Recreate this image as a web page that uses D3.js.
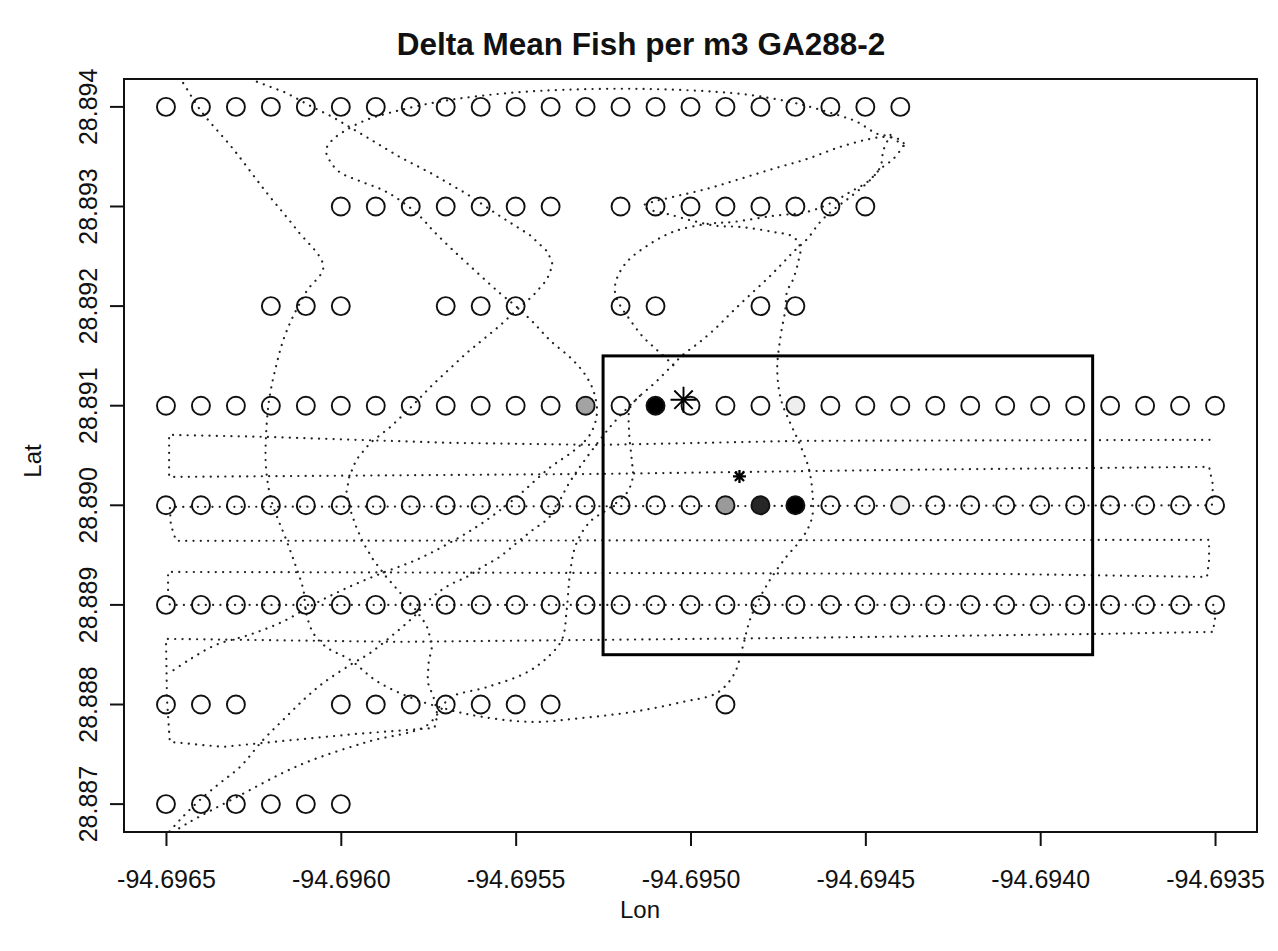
<!DOCTYPE html>
<html>
<head>
<meta charset="utf-8">
<title>Delta Mean Fish per m3 GA288-2</title>
<script src="https://cdn.jsdelivr.net/npm/d3@7"></script>
<style>
  body { margin: 0; background: #fff; }
  svg text { font-family: "Liberation Sans", Arial, Helvetica, sans-serif; fill: #111; }
  .track { fill: none; stroke: #222; stroke-width: 2.2; stroke-dasharray: 0.1 7.2; stroke-linecap: round; }
  .station { stroke: #111; stroke-width: 1.9; }
</style>
</head>
<body>
<div id="chart"></div>
<script>
// ---- data ----------------------------------------------------------------
var titleText = "Delta Mean Fish per m3 GA288-2";

var xTicks = [-94.6965, -94.6960, -94.6955, -94.6950, -94.6945, -94.6940, -94.6935];
var xTickLabels = ["-94.6965", "-94.6960", "-94.6955", "-94.6950", "-94.6945", "-94.6940", "-94.6935"];
var yTicks = [28.887, 28.888, 28.889, 28.890, 28.891, 28.892, 28.893, 28.894];
var yTickLabels = ["28.887", "28.888", "28.889", "28.890", "28.891", "28.892", "28.893", "28.894"];

// sampling stations, one list of longitudes per latitude row
var fullRow = [-94.6965, -94.6964, -94.6963, -94.6962, -94.6961, -94.6960, -94.6959, -94.6958,
               -94.6957, -94.6956, -94.6955, -94.6954, -94.6953, -94.6952, -94.6951, -94.6950,
               -94.6949, -94.6948, -94.6947, -94.6946, -94.6945, -94.6944, -94.6943, -94.6942,
               -94.6941, -94.6940, -94.6939, -94.6938, -94.6937, -94.6936, -94.6935];
var rowLat = [28.894, 28.893, 28.892, 28.891, 28.890, 28.889, 28.888, 28.887];
var rowLon = [
  [-94.6965, -94.6964, -94.6963, -94.6962, -94.6961, -94.6960, -94.6959, -94.6958, -94.6957, -94.6956, -94.6955,
   -94.6954, -94.6953, -94.6952, -94.6951, -94.6950, -94.6949, -94.6948, -94.6947, -94.6946, -94.6945, -94.6944],
  [-94.6960, -94.6959, -94.6958, -94.6957, -94.6956, -94.6955, -94.6954,
   -94.6952, -94.6951, -94.6950, -94.6949, -94.6948, -94.6947, -94.6946, -94.6945],
  [-94.6962, -94.6961, -94.6960, -94.6957, -94.6956, -94.6955, -94.6952, -94.6951, -94.6948, -94.6947],
  fullRow,
  fullRow,
  fullRow,
  [-94.6965, -94.6964, -94.6963, -94.6960, -94.6959, -94.6958, -94.6957, -94.6956, -94.6955, -94.6954, -94.6949],
  [-94.6965, -94.6964, -94.6963, -94.6962, -94.6961, -94.6960]
];

// stations with fish (grey level of the fill)
var catchLon = [-94.6953, -94.6951, -94.6947, -94.6949, -94.6948, -94.6947, -94.6944];
var catchLat = [28.891, 28.891, 28.891, 28.890, 28.890, 28.890, 28.890];
var catchFill = ["#a3a3a3", "#000000", "#eeeeee", "#9a9a9a", "#262626", "#000000", "#efefef"];

// asterisks
var starLon = [-94.69502, -94.69486];
var starLat = [28.89106, 28.89029];
var starKind = ["large", "small"];

// study box
var boxLon = [-94.69525, -94.69385];
var boxLat = [28.8885, 28.8915];

// boat track pieces, [lon, lat]
var trackA = [
  [-94.696268, 28.894351], [-94.696254, 28.894271], [-94.696156, 28.894141], [-94.696082, 28.894000],
  [-94.696024, 28.893900], [-94.695927, 28.893699], [-94.695832, 28.893498], [-94.695738, 28.893327],
  [-94.695640, 28.893127], [-94.695546, 28.892906], [-94.695460, 28.892715], [-94.695408, 28.892544],
  [-94.695394, 28.892414], [-94.695411, 28.892263], [-94.695451, 28.892102], [-94.695497, 28.891962],
  [-94.695546, 28.891801], [-94.695640, 28.891530], [-94.695738, 28.891209], [-94.695801, 28.890978],
  [-94.695858, 28.890787], [-94.695916, 28.890627], [-94.695956, 28.890456], [-94.695976, 28.890285],
  [-94.695984, 28.890125], [-94.695973, 28.889954], [-94.695956, 28.889783], [-94.695936, 28.889623],
  [-94.695907, 28.889452], [-94.695870, 28.889281], [-94.695830, 28.889121], [-94.695792, 28.888980],
  [-94.695755, 28.888799], [-94.695738, 28.888599], [-94.695749, 28.888418], [-94.695752, 28.888227],
  [-94.695732, 28.888046], [-94.695724, 28.887896], [-94.695732, 28.887765], [-94.695956, 28.887705],
  [-94.696222, 28.887615], [-94.696337, 28.887574], [-94.696489, 28.887625], [-94.696497, 28.888046],
  [-94.696500, 28.888659], [-94.695832, 28.888629], [-94.694686, 28.888669], [-94.693827, 28.888709],
  [-94.693506, 28.888729], [-94.693500, 28.888870], [-94.693503, 28.889000], [-94.696489, 28.889000],
  [-94.696494, 28.889151], [-94.696494, 28.889331], [-94.694113, 28.889311], [-94.693523, 28.889281],
  [-94.693517, 28.889452], [-94.693517, 28.889653], [-94.696471, 28.889643], [-94.696486, 28.889803],
  [-94.696489, 28.889984], [-94.693509, 28.890000], [-94.693506, 28.890205], [-94.693517, 28.890386],
  [-94.694400, 28.890356], [-94.695259, 28.890315], [-94.696491, 28.890285], [-94.696491, 28.890496],
  [-94.696491, 28.890707], [-94.696214, 28.890687], [-94.695689, 28.890627], [-94.695259, 28.890606],
  [-94.694686, 28.890647], [-94.693511, 28.890657]
];
var trackB = [
  [-94.696477, 28.894351], [-94.696457, 28.894271], [-94.696400, 28.893960], [-94.696308, 28.893578],
  [-94.696214, 28.893147], [-94.696128, 28.892775], [-94.696050, 28.892394], [-94.696099, 28.892143],
  [-94.696156, 28.891741], [-94.696185, 28.891400], [-94.696205, 28.891058], [-94.696214, 28.890687],
  [-94.696214, 28.890386], [-94.696199, 28.890054], [-94.696156, 28.889653], [-94.696128, 28.889382],
  [-94.696107, 28.889151], [-94.696099, 28.888920], [-94.696079, 28.888719], [-94.696042, 28.888578],
  [-94.695973, 28.888448], [-94.695898, 28.888237], [-94.695798, 28.888066], [-94.695689, 28.887946],
  [-94.695595, 28.887876], [-94.695451, 28.887825], [-94.695308, 28.887866], [-94.695165, 28.887926],
  [-94.695022, 28.888026], [-94.694924, 28.888117], [-94.694875, 28.888307], [-94.694853, 28.888548],
  [-94.694827, 28.888880], [-94.694778, 28.889221], [-94.694726, 28.889482], [-94.694678, 28.889683],
  [-94.694652, 28.889884], [-94.694652, 28.890155], [-94.694663, 28.890386], [-94.694689, 28.890627],
  [-94.694715, 28.890827], [-94.694741, 28.891058], [-94.694752, 28.891360], [-94.694744, 28.891661],
  [-94.694729, 28.891962], [-94.694724, 28.892143], [-94.694706, 28.892273], [-94.694692, 28.892444],
  [-94.694686, 28.892584], [-94.694706, 28.892695], [-94.694764, 28.892745], [-94.694858, 28.892795],
  [-94.694924, 28.892805], [-94.694993, 28.892855], [-94.695067, 28.892926], [-94.695125, 28.892976],
  [-94.695136, 28.893006], [-94.695108, 28.893046], [-94.695050, 28.893096], [-94.694953, 28.893177],
  [-94.694858, 28.893277], [-94.694764, 28.893378], [-94.694666, 28.893478], [-94.694572, 28.893598],
  [-94.694486, 28.893679], [-94.694443, 28.893699], [-94.694400, 28.893669], [-94.694385, 28.893608]
];
var trackC = [
  [-94.694391, 28.893608], [-94.694428, 28.893699], [-94.694466, 28.893729], [-94.694523, 28.893849],
  [-94.694572, 28.893910], [-94.694638, 28.893980], [-94.694715, 28.894050], [-94.694858, 28.894131],
  [-94.695145, 28.894181], [-94.695431, 28.894161], [-94.695603, 28.894110], [-94.695738, 28.894040],
  [-94.695861, 28.893940], [-94.695927, 28.893869], [-94.695984, 28.893769], [-94.696024, 28.893669],
  [-94.696042, 28.893568], [-94.696033, 28.893468], [-94.696004, 28.893347], [-94.695947, 28.893257],
  [-94.695881, 28.893167], [-94.695832, 28.893066], [-94.695775, 28.892906], [-94.695738, 28.892765],
  [-94.695689, 28.892594], [-94.695640, 28.892434], [-94.695546, 28.892133], [-94.695497, 28.891992],
  [-94.695451, 28.891841], [-94.695403, 28.891661], [-94.695337, 28.891460], [-94.695297, 28.891289],
  [-94.695274, 28.891109], [-94.695268, 28.890908], [-94.695288, 28.890707], [-94.695331, 28.890556],
  [-94.695403, 28.890376], [-94.695497, 28.890084], [-94.695595, 28.889823], [-94.695689, 28.889623],
  [-94.695784, 28.889452], [-94.695881, 28.889321], [-94.695976, 28.889181], [-94.696070, 28.889020],
  [-94.696168, 28.888829], [-94.696262, 28.888699], [-94.696357, 28.888599], [-94.696434, 28.888448],
  [-94.696494, 28.888307]
];
var trackD = [
  [-94.694391, 28.893608], [-94.694420, 28.893478], [-94.694457, 28.893378], [-94.694494, 28.893247],
  [-94.694543, 28.893147], [-94.694592, 28.893046], [-94.694666, 28.892946], [-94.694764, 28.892906],
  [-94.694878, 28.892845], [-94.694953, 28.892825], [-94.695050, 28.892745], [-94.695125, 28.892604],
  [-94.695182, 28.892444], [-94.695211, 28.892273], [-94.695216, 28.892143], [-94.695202, 28.892012],
  [-94.695173, 28.891862], [-94.695136, 28.891691], [-94.695096, 28.891560], [-94.695059, 28.891440],
  [-94.695042, 28.891380]
];
var trackE = [
  [-94.694428, 28.893719], [-94.694448, 28.893568], [-94.694457, 28.893398], [-94.694486, 28.893267],
  [-94.694543, 28.893096], [-94.694592, 28.892966], [-94.694629, 28.892845], [-94.694666, 28.892675],
  [-94.694706, 28.892544], [-94.694744, 28.892404], [-94.694781, 28.892273], [-94.694830, 28.892113],
  [-94.694878, 28.891952], [-94.694924, 28.891791], [-94.694973, 28.891641], [-94.695022, 28.891510],
  [-94.695059, 28.891380], [-94.695102, 28.891229], [-94.695145, 28.891098], [-94.695191, 28.890938],
  [-94.695225, 28.890807], [-94.695259, 28.890657], [-94.695302, 28.890456], [-94.695345, 28.890235],
  [-94.695403, 28.889884], [-94.695451, 28.889753], [-94.695497, 28.889623], [-94.695546, 28.889482],
  [-94.695595, 28.889382], [-94.695640, 28.889281], [-94.695689, 28.889201], [-94.695738, 28.889080],
  [-94.695792, 28.888880], [-94.695858, 28.888679], [-94.695916, 28.888518], [-94.695973, 28.888398],
  [-94.696050, 28.888217], [-94.696107, 28.888046], [-94.696165, 28.887846], [-94.696222, 28.887645],
  [-94.696288, 28.887374], [-94.696345, 28.887213], [-94.696403, 28.887042], [-94.696460, 28.886842],
  [-94.696506, 28.886661]
];
var trackF = [
  [-94.695145, 28.891098], [-94.695173, 28.890978], [-94.695176, 28.890757], [-94.695168, 28.890456],
  [-94.695165, 28.890285], [-94.695182, 28.890125], [-94.695231, 28.889974], [-94.695288, 28.889833],
  [-94.695328, 28.889602], [-94.695345, 28.889301], [-94.695354, 28.888950], [-94.695368, 28.888649],
  [-94.695417, 28.888448], [-94.695477, 28.888307], [-94.695580, 28.888177], [-94.695689, 28.888066],
  [-94.695718, 28.887926], [-94.695761, 28.887775], [-94.695924, 28.887625], [-94.696116, 28.887394],
  [-94.696308, 28.887052], [-94.696437, 28.886811], [-94.696506, 28.886661]
];
// trackA holds the straight transects, so it is drawn without smoothing
var tracks = [trackA, trackB, trackC, trackD, trackE, trackF];
var trackSmooth = [false, true, true, true, true, true];

// ---- layout --------------------------------------------------------------
var width = 1278, height = 951;
var plot = { left: 124, right: 1257, top: 79, bottom: 832 };

var svg = d3.select("#chart").append("svg")
    .attr("width", width)
    .attr("height", height);

// R style: data range padded by 4% on each side
var x = d3.scaleLinear()
    .domain([-94.69662, -94.69338])
    .range([plot.left, plot.right]);
var y = d3.scaleLinear()
    .domain([28.88672, 28.89428])
    .range([plot.bottom, plot.top]);

svg.append("clipPath").attr("id", "clip")
  .append("rect")
    .attr("x", plot.left).attr("y", plot.top)
    .attr("width", plot.right - plot.left)
    .attr("height", plot.bottom - plot.top);

var g = svg.append("g").attr("clip-path", "url(#clip)");

// track
var straightLine = d3.line()
    .x(d => x(d[0]))
    .y(d => y(d[1]));
var smoothLine = d3.line()
    .x(d => x(d[0]))
    .y(d => y(d[1]))
    .curve(d3.curveCatmullRom.alpha(0.5));

g.selectAll(".track")
  .data(tracks)
  .enter().append("path")
    .attr("class", "track")
    .attr("d", (d, i) => trackSmooth[i] ? smoothLine(d) : straightLine(d));

// stations
var stations = [];
rowLat.forEach(function (lat, i) {
    rowLon[i].forEach(function (lon) { stations.push({ lon: lon, lat: lat }); });
});

g.selectAll(".station")
  .data(stations)
  .enter().append("circle")
    .attr("class", "station")
    .attr("cx", d => x(d.lon))
    .attr("cy", d => y(d.lat))
    .attr("r", 9)
    .attr("fill", function (d) {
        for (var k = 0; k < catchLon.length; k++) {
            if (Math.abs(catchLon[k] - d.lon) < 1e-7 && Math.abs(catchLat[k] - d.lat) < 1e-7) return catchFill[k];
        }
        return "none";
    });

// box
svg.append("rect")
    .attr("x", x(boxLon[0]))
    .attr("y", y(boxLat[1]))
    .attr("width", x(boxLon[1]) - x(boxLon[0]))
    .attr("height", y(boxLat[0]) - y(boxLat[1]))
    .attr("fill", "none")
    .attr("stroke", "#000")
    .attr("stroke-width", 3);

// asterisks (pch 8)
var stars = starLon.map((lon, i) => ({ lon: lon, lat: starLat[i], kind: starKind[i] }));
var starArm = d3.scaleOrdinal().domain(["large", "small"]).range([13, 6.5]);
var starWidth = d3.scaleOrdinal().domain(["large", "small"]).range([1.9, 2.3]);

svg.selectAll(".star")
  .data(stars)
  .enter().append("path")
    .attr("class", "star")
    .attr("transform", d => "translate(" + x(d.lon) + "," + y(d.lat) + ")")
    .attr("d", function (d) {
        var r = starArm(d.kind), q = r * Math.SQRT1_2;
        return "M" + (-r) + ",0L" + r + ",0M0," + (-r) + "L0," + r +
               "M" + (-q) + "," + (-q) + "L" + q + "," + q +
               "M" + (-q) + "," + q + "L" + q + "," + (-q);
    })
    .attr("fill", "none")
    .attr("stroke", "#000")
    .attr("stroke-width", d => starWidth(d.kind));

// frame
svg.append("rect")
    .attr("x", plot.left).attr("y", plot.top)
    .attr("width", plot.right - plot.left)
    .attr("height", plot.bottom - plot.top)
    .attr("fill", "none")
    .attr("stroke", "#111")
    .attr("stroke-width", 2);

// x axis
var xAxis = d3.axisBottom(x)
    .tickValues(xTicks)
    .tickFormat((d, i) => xTickLabels[i])
    .tickSize(14)
    .tickSizeOuter(0)
    .tickPadding(24);

var gx = svg.append("g")
    .attr("transform", "translate(0," + plot.bottom + ")")
    .call(xAxis);
gx.select(".domain").remove();
gx.selectAll(".tick line").attr("stroke", "#111").attr("stroke-width", 2);
gx.selectAll(".tick text")
    .attr("fill", "#111")
    .style("font-size", "25px")
    .style("font-family", "'Liberation Sans', Arial, sans-serif");

// y axis (labels parallel to the axis)
var gy = svg.append("g");
gy.selectAll("line")
  .data(yTicks)
  .enter().append("line")
    .attr("x1", plot.left).attr("x2", plot.left - 14)
    .attr("y1", d => y(d)).attr("y2", d => y(d))
    .attr("stroke", "#111")
    .attr("stroke-width", 2);
gy.selectAll("text")
  .data(yTicks)
  .enter().append("text")
    .attr("transform", d => "translate(97," + y(d) + ") rotate(-90)")
    .attr("text-anchor", "middle")
    .style("font-size", "25px")
    .text((d, i) => yTickLabels[i]);

// titles
svg.append("text")
    .attr("x", 641).attr("y", 55)
    .attr("text-anchor", "middle")
    .style("font-size", "31.5px")
    .style("font-weight", "bold")
    .text(titleText);

svg.append("text")
    .attr("x", 640).attr("y", 918)
    .attr("text-anchor", "middle")
    .style("font-size", "24px")
    .text("Lon");

svg.append("text")
    .attr("transform", "translate(41,461) rotate(-90)")
    .attr("text-anchor", "middle")
    .style("font-size", "24px")
    .text("Lat");
</script>
</body>
</html>
